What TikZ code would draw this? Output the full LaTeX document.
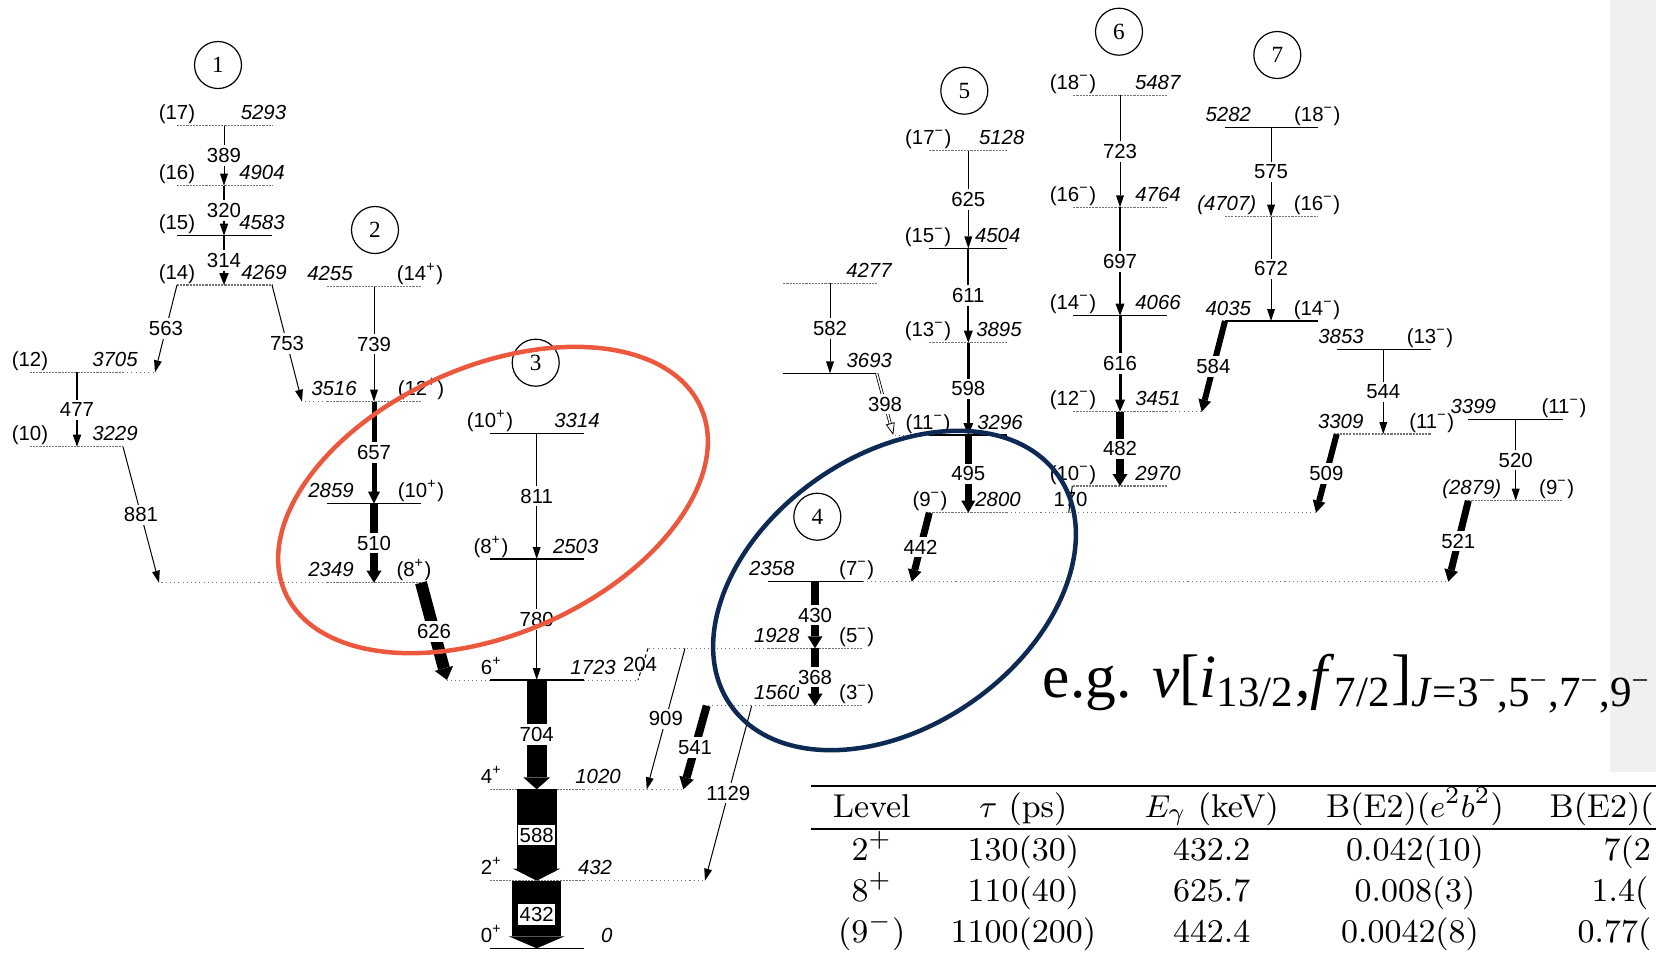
\documentclass[tikz,border=0pt]{standalone}
\usepackage{fontspec}
\newfontfamily\lsfont{Liberation Sans}
\newfontfamily\tmfont{Liberation Serif}
\usetikzlibrary{arrows.meta,calc}
\definecolor{ringred}{RGB}{236,88,62}
\definecolor{ringblue}{RGB}{12,42,84}

\newcommand\E[1]{\textit{#1}}
\newcommand\jp[1]{(#1\textsuperscript{+})}
\newcommand\jm[1]{(#1\textsuperscript{−})}
% [style]{name}{x left}{x right}{y}{left text}{x}{right text}{x}
\newcommand\lev[9][tlvl]{%
  \draw[#1] (#3,#5) coordinate (#2) -- (#4,#5) coordinate (#2r);
  \node[lvtxt] (#2a) at (#7,#5-6) {#6};
  \node[lvtxt] (#2b) at (#9,#5-6) {#8};}

\begin{document}
\begin{tikzpicture}
[x=0.1mm, y=-0.1mm,
 every node/.style={font=\lsfont\fontsize{5.8}{6.5}\selectfont},
 lvl/.style={line width=0.12mm},
 tlvl/.style={line width=0.15mm, black!55, dash pattern=on 0.6pt off 0.3pt},
 ext/.style={line width=0.1mm, black!55, dash pattern=on 0.3pt off 0.9pt},
 lvtxt/.style={anchor=base, inner sep=0pt},
 gam/.style={line width=#1, -{Triangle[length=1.2mm, width=0.7mm 1, line width=0pt]}},
 gam/.default=0.1mm,
 lab/.style={fill=white, inner sep=0.3mm},
 wide/.style={fill=white, inner xsep=0.15mm, inner ysep=0.3mm},
 band/.style={circle, draw, line width=0.12mm, minimum size=4.7mm, inner sep=0pt,
              font=\tmfont\fontsize{6.6}{7}\selectfont},
 tab/.style={anchor=base, inner sep=0pt, font=\rmfamily\fontsize{9.4}{11}\selectfont},
 ring/.style={line width=0.45mm}]
\useasboundingbox (0,0) rectangle (1656,954);
\clip (0,0) rectangle (1656,954);
\fill[black!6] (1610,0) rectangle (1656,772);

\coordinate (c1)  at (224,0);
\coordinate (c1b) at (77,0);
\coordinate (c2)  at (374,0);
\coordinate (c3)  at (536.7,0);
\coordinate (c4)  at (815,0);
\coordinate (c5)  at (968.3,0);
\coordinate (c5b) at (830,0);
\coordinate (c6)  at (1120,0);
\coordinate (c7)  at (1271,0);
\coordinate (c7b) at (1383.3,0);
\coordinate (c7c) at (1515.7,0);

% levels
\lev{L5293}{177}{272}{125.7}{(17)}{177}{\E{5293}}{263.5}
\lev{L4904}{177}{272}{185.7}{(16)}{177}{\E{4904}}{262}
\lev[lvl]{L4583}{177}{272}{235.7}{(15)}{177}{\E{4583}}{262}
\lev{L4269}{177}{272}{285}{(14)}{177}{\E{4269}}{264}
\lev{L3705}{30}{123}{372.3}{(12)}{30}{\E{3705}}{115}
\lev{L3229}{30}{123}{446.7}{(10)}{30}{\E{3229}}{115}

\lev{L4255}{327}{421}{286.7}{\E{4255}}{330}{\jp{14}}{420}
\lev{L3516}{327}{421}{401.7}{\E{3516}}{334}{\jp{12}}{421}
\lev[lvl]{L2859}{327}{421}{503.7}{\E{2859}}{331}{\jp{10}}{421}
\lev{L2349}{327}{421}{582.7}{\E{2349}}{331}{\jp{8}}{414}

\lev[lvl]{L3314}{490}{584}{433.3}{\jp{10}}{490}{\E{3314}}{577}
\lev[lvl]{L2503}{490}{584}{559}{\jp{8}}{491}{\E{2503}}{575.7}
\lev[lvl]{L1723}{490}{584}{680}{6\textsuperscript{+}}{491.7}{\E{1723}}{593}
\lev{L1020}{490}{584}{789.3}{4\textsuperscript{+}}{491.7}{\E{1020}}{598}
\lev{L432}{490}{584}{880.7}{2\textsuperscript{+}}{491.7}{\E{432}}{595}
\lev[lvl]{L0}{490}{584}{948.3}{0\textsuperscript{+}}{491.7}{\E{0}}{606.7}

\lev[lvl]{L2358}{768.3}{862.7}{581.7}{\E{2358}}{771.7}{\jm{7}}{856.7}
\lev{L1928}{768.3}{862.7}{648.3}{\E{1928}}{776.7}{\jm{5}}{856.7}
\lev{L1560}{768.3}{862.7}{705.7}{\E{1560}}{776.7}{\jm{3}}{856.7}

\lev{L5128}{929.3}{1006.7}{150.7}{\jm{17}}{928.3}{\E{5128}}{1001.7}
\lev[lvl]{L4504}{929.3}{1006.7}{248.3}{\jm{15}}{928}{\E{4504}}{997.7}
\lev{L3895}{929.3}{1006.7}{342.7}{\jm{13}}{928}{\E{3895}}{999}
\lev[lvl]{L3296}{929.3}{1006.7}{435}{\jm{11}}{928}{\E{3296}}{1000}
\lev{L2800}{929.3}{1006.7}{512.7}{\jm{9}}{930}{\E{2800}}{998}
\lev{L4277}{783.3}{876.7}{283.3}{}{783.3}{\E{4277}}{869.3}
\lev[lvl]{L3693}{783.3}{876.7}{373.3}{}{783.3}{\E{3693}}{869.3}

\lev{L5487}{1073.3}{1166.7}{95.3}{\jm{18}}{1073}{\E{5487}}{1158}
\lev{L4764}{1073.3}{1166.7}{207.3}{\jm{16}}{1073}{\E{4764}}{1158}
\lev[lvl]{L4066}{1073.3}{1166.7}{315.7}{\jm{14}}{1073}{\E{4066}}{1158}
\lev{L3451}{1073.3}{1166.7}{411.7}{\jm{12}}{1073}{\E{3451}}{1158}
\lev{L2970}{1073.3}{1166.7}{486}{\jm{10}}{1073}{\E{2970}}{1158}

\lev[lvl]{L5282}{1225}{1318.3}{127.3}{\E{5282}}{1228.3}{\jm{18}}{1317.3}
\lev{L4707}{1225}{1318.3}{216.7}{\E{(4707)}}{1226.7}{\jm{16}}{1317}
\lev[lvl]{L4035}{1225}{1318.3}{321}{\E{4035}}{1228.3}{\jm{14}}{1317}
\lev[lvl]{L3853}{1336.7}{1430.7}{349.3}{\E{3853}}{1341}{\jm{13}}{1430}
\lev{L3309}{1336.7}{1430.7}{434}{\E{3309}}{1340.7}{\jm{11}}{1431.7}
\lev[lvl]{L3399}{1468.3}{1562.7}{419.3}{\E{3399}}{1473.3}{\jm{11}}{1564}
\lev{L2879}{1468.3}{1562.7}{500.7}{\E{(2879)}}{1471.7}{\jm{9}}{1556.7}

% dotted extensions of the levels
\draw[ext] (L3705r) -- (155,372.3) coordinate (L3705e);
\draw[ext] (L3516) -- (302,401.7) coordinate (L3516e);
\draw[ext] (L2349) -- (159,582.7) coordinate (L2349e);
\draw[ext] (L1723) -- (447,680) coordinate (L1723e);
\draw[ext] (L1723r) -- (638,680) coordinate (L1723f);
\draw[ext] (L1020r) -- (683.3,789.3) coordinate (L1020e);
\draw[ext] (L432r) -- (705,880.7) coordinate (L432e);
\draw[ext] (L2358r) -- (1448.3,581.7) coordinate (L2358e);
\draw[ext] (L1928) -- (648,648.3) coordinate (L1928e);
\draw[ext] (L1560) -- (706.7,705.7) coordinate (L1560e);
\draw[ext] (L3296) -- (893.3,435) coordinate (L3296e);
\draw[ext] (L2800r) -- (1316,512.7) coordinate (L2800e);
\draw[ext] (L3451r) -- (1201.7,411.7) coordinate (L3451e);

% transitions
\draw[gam] (c1 |- L5293) -- node[lab] (g389) {389} (c1 |- L4904);
\draw[gam=0.15mm] (c1 |- L4904) -- node[lab] (g320) {320} (c1 |- L4583);
\draw[gam=0.25mm] (c1 |- L4583) -- node[lab] (g314) {314} (c1 |- L4269);
\draw[gam] (L4269) -- node[lab] (g563) {563} (L3705e);
\draw[gam] (L4269r) -- node[lab] (g753) {753} (L3516e);
\draw[gam=0.15mm] (c1b |- L3705) -- node[lab] (g477) {477} (c1b |- L3229);
\draw[gam] (L3229r) -- node[lab] (g881) {881} (L2349e);

\draw[gam] (c2 |- L4255) -- node[lab] (g739) {739} (c2 |- L3516);
\draw[gam=0.5mm] (c2 |- L3516) -- node[lab] (g657) {657} (c2 |- L2859);
\draw[gam=0.8mm] (c2 |- L2859) -- node[lab] (g510) {510} (c2 |- L2349);
\draw[gam=1.2mm] (L2349r) -- node[lab] (g626) {626} (L1723e);

\draw[gam] (c3 |- L3314) -- node[lab] (g811) {811} (c3 |- L2503);
\draw[gam] (c3 |- L2503) -- node[lab] (g780) {780} (c3 |- L1723);
\draw[gam=2mm] (c3 |- L1723) -- node[lab] (g704) {704} (c3 |- L1020);
\draw[gam=4mm] (c3 |- L1020) -- node[wide] (g588) {588} (c3 |- L432);
\draw[gam=4.9mm] (c3 |- L432) -- node[wide] (g432) {432} (c3 |- L0);

\draw[line width=0.1mm, dash pattern=on 1pt off 0.8pt] (L1928e) -- node[xshift=-0.3mm] (g204) {204} (L1723f);
\draw[gam] ($(L1928e)+(37,0)$) -- node[lab] (g909) {909} ($(L1020r)+(62.7,0)$);
\draw[gam=0.8mm] (L1560e) -- node[lab] (g541) {541} (L1020e);
\draw[gam] ($(L1560e)+(45,0)$) -- node[lab] (g1129) {1129} (L432e);

\draw[gam=0.8mm] (c4 |- L2358) -- node[lab] (g430) {430} (c4 |- L1928);
\draw[gam=0.8mm] (c4 |- L1928) -- node[lab] (g368) {368} (c4 |- L1560);
\draw[gam=0.7mm] (L2800) -- node[lab] (g442) {442} ($(L2358r)+(49,0)$);

\draw[gam] (c5 |- L5128) -- node[lab] (g625) {625} (c5 |- L4504);
\draw[gam=0.2mm] (c5 |- L4504) -- node[lab] (g611) {611} (c5 |- L3895);
\draw[gam=0.3mm] (c5 |- L3895) -- node[lab] (g598) {598} (c5 |- L3296);
\draw[gam=0.7mm] (c5 |- L3296) -- node[lab] (g495) {495} (c5 |- L2800);
\draw[gam] (c5b |- L4277) -- node[lab] (g582) {582} (c5b |- L3693);
\draw[line width=0.08mm, double distance=0.15mm, -{Triangle[open, length=1.2mm, width=0.9mm]}]
  (L3693r) -- node[lab] (g398) {398} (L3296e);
\draw[line width=0.1mm] ($(L2970)+(-1,0)$) -- node (g170) {170} ($(L2800r)+(62,0)$);

\draw[gam] (c6 |- L5487) -- node[lab] (g723) {723} (c6 |- L4764);
\draw[gam=0.2mm] (c6 |- L4764) -- node[lab] (g697) {697} (c6 |- L4066);
\draw[gam=0.3mm] (c6 |- L4066) -- node[lab] (g616) {616} (c6 |- L3451);
\draw[gam=0.8mm] (c6 |- L3451) -- node[lab] (g482) {482} (c6 |- L2970);
\draw[gam=0.6mm] (L4035) -- node[lab] (g584) {584} (L3451e);

\draw[gam] (c7 |- L5282) -- node[lab] (g575) {575} (c7 |- L4707);
\draw[gam] (c7 |- L4707) -- node[lab] (g672) {672} (c7 |- L4035);
\draw[gam] (c7b |- L3853) -- node[lab] (g544) {544} (c7b |- L3309);
\draw[gam=0.6mm] (L3309) -- node[lab] (g509) {509} (L2800e);
\draw[gam] (c7c |- L3399) -- node[lab] (g520) {520} (c7c |- L2879);
\draw[gam=0.7mm] (L2879) -- node[lab] (g521) {521} (L2358e);

% band numbers
\node[band] (n1) at (218,65) {1};
\node[band] (n2) at (375,230) {2};
\node[band] (n3) at (535.7,362.7) {3};
\node[band] (n4) at (817.3,516.7) {4};
\node[band] (n5) at (964.3,90.7) {5};
\node[band] (n6) at (1119,31.7) {6};
\node[band] (n7) at (1277.3,55) {7};

\draw[ring, ringred, rotate around={24:(493,500)}] (493,500) ellipse (22.75mm and 13.36mm);
\draw[ring, ringblue, rotate around={35:(894.5,590.5)}] (894.5,590.5) ellipse (20mm and 13.56mm);

\node[anchor=base west, inner sep=0pt, font=\tmfont\fontsize{17.5}{20}\selectfont] (eg) at (1042,697)
  {e.g. \textit{ν}[\textit{i}\textsubscript{13/2},\textit{f}\textsubscript{7/2}]\textsubscript{\textit{J}=3\textsuperscript{−},5\textsuperscript{−},7\textsuperscript{−},9\textsuperscript{−}}};

% table
\draw[line width=0.22mm] (811,786) -- (1656,786);
\draw[line width=0.14mm] (811,829) -- (1656,829);
\node[tab] (hlev) at (871.7,817.3) {Level};
\node[tab] (htau) at (1023.3,817.3) {$\tau$\ (ps)};
\node[tab] (heg) at (1211.7,817.3) {$E_\gamma$\ (keV)};
\node[tab] (hbe) at (1415,817.3) {B(E2)($e^2b^2$)};
\node[tab, anchor=base west] (hbw) at (1549,817.3) {B(E2)(};
\node[tab] (r1a) at (871.7,860) {2$^+$};
\node[tab] (r1b) at (1023.3,860) {130(30)};
\node[tab] (r1c) at (1211.7,860) {432.2};
\node[tab] (r1d) at (1415,860) {0.042(10)};
\node[tab, anchor=base west] (r1e) at (1603,860) {7(2};
\node[tab] (r2a) at (871.7,901) {8$^+$};
\node[tab] (r2b) at (1023.3,901) {110(40)};
\node[tab] (r2c) at (1211.7,901) {625.7};
\node[tab] (r2d) at (1415,901) {0.008(3)};
\node[tab, anchor=base west] (r2e) at (1591,901) {1.4(};
\node[tab] (r3a) at (871.7,942) {(9$^-$)};
\node[tab] (r3b) at (1023.3,942) {1100(200)};
\node[tab] (r3c) at (1211.7,942) {442.4};
\node[tab] (r3d) at (1410,942) {0.0042(8)};
\node[tab, anchor=base west] (r3e) at (1577,942) {0.77(};
\end{tikzpicture}
\end{document}
